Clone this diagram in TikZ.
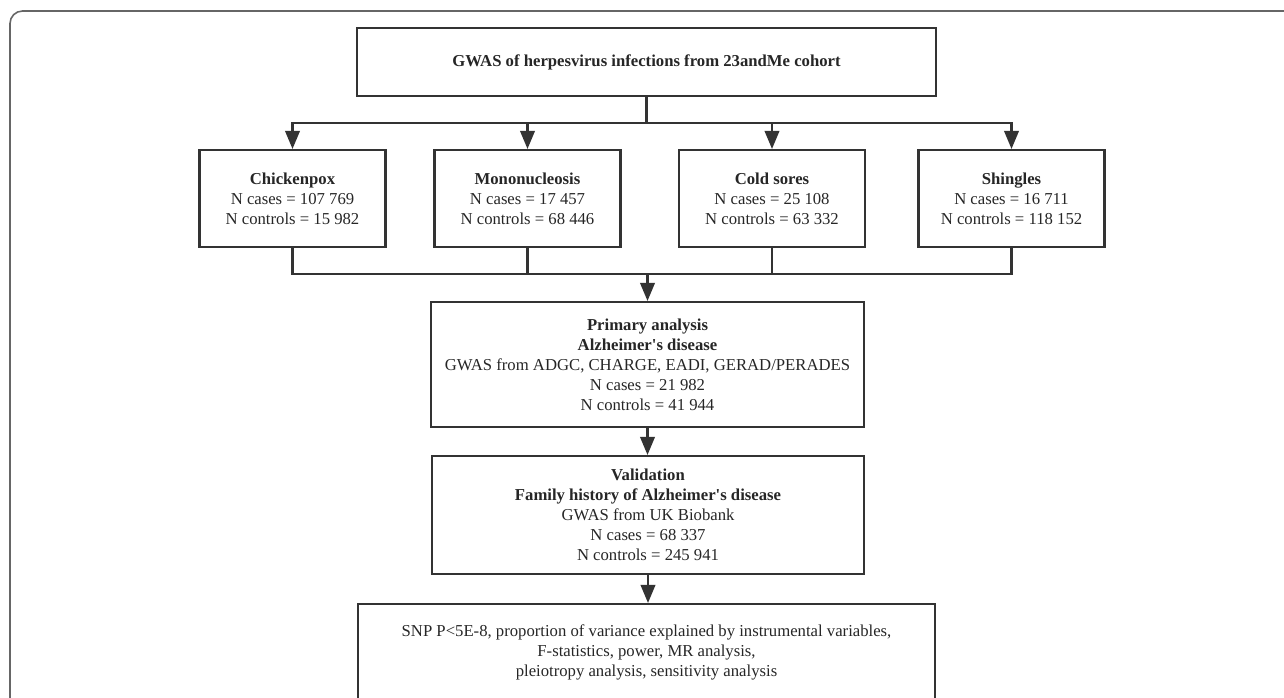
\documentclass[tikz,border=0pt]{standalone}
\usepackage{fontspec}
\setmainfont{Liberation Serif}
\usetikzlibrary{arrows.meta}
\tikzset{>={Triangle[length=0.36cm,width=0.29cm]}}
\definecolor{boxline}{HTML}{333333}
\definecolor{boxtext}{HTML}{262626}
\definecolor{frameline}{HTML}{666666}
\tikzstyle{study}=[rectangle,draw=boxline,line width=1.2pt,align=center,inner sep=0pt,text=boxtext,font=\fontsize{9.5}{11.4}\selectfont]
\tikzstyle{link}=[draw=boxline,line width=1.2pt]

\begin{document}
\begin{tikzpicture}[x=0.02cm,y=-0.02cm]
\useasboundingbox (0,0) rectangle (1284,697);
\clip (0,0) rectangle (1284,697);
\def \rowy {198.5};
\def \boxw {3.72};
\def \boxh {1.94};

% outer frame
\draw[frameline,line width=0.9pt,rounded corners=0.25cm] (1300,11) -- (10,11) -- (10,710);

\node[study,minimum width=11.58cm,minimum height=1.36cm] (gwas) at (646.5,62)
{\textbf{GWAS of herpesvirus infections from 23andMe cohort}};

\foreach \i/\xpos/\virus/\ncase/\nctrl in {1/292.5/Chickenpox/107 769/15 982,2/527.5/Mononucleosis/17 457/68 446,3/772/Cold sores/25 108/63 332,4/1011.5/Shingles/16 711/118 152} {
	\node[study,minimum width= \boxw cm,minimum height= \boxh cm] (inf\i)
	at (\xpos, \rowy) {\textbf{\virus}\\N cases = \ncase\\N controls = \nctrl};
};

\node[study,minimum width=8.66cm,minimum height=2.5cm] (primary) at (647.5,364.5)
{\textbf{Primary analysis}\\\textbf{Alzheimer\textquotesingle s disease}\\GWAS from ADGC, CHARGE, EADI, GERAD/PERADES\\N cases = 21 982\\N controls = 41 944};

\node[study,minimum width=8.64cm,minimum height=2.36cm] (valid) at (648,515)
{\textbf{Validation}\\\textbf{Family history of Alzheimer\textquotesingle s disease}\\GWAS from UK Biobank\\N cases = 68 337\\N controls = 245 941};

\node[study,minimum width=11.54cm,minimum height=1.92cm] (mr) at (646.5,652)
{SNP P<5E-8, proportion of variance explained by instrumental variables,\\F-statistics, power, MR analysis,\\pleiotropy analysis, sensitivity analysis};

\coordinate (split) at (646.5,123);
\coordinate (merge) at (647.5,274);

\draw[link] (gwas.south) -- (split);
\foreach \i in {1,...,4} {
	\draw[link,->] (split) -| (inf\i.north);
	\draw[link] (inf\i.south) |- (merge);
};

\draw[link,->] (merge) -- (primary.north);
\draw[link,->] (primary.south) -- (primary.south |- valid.north);
\draw[link,->] (valid.south) -- (valid.south |- mr.north);

\end{tikzpicture}
\end{document}
